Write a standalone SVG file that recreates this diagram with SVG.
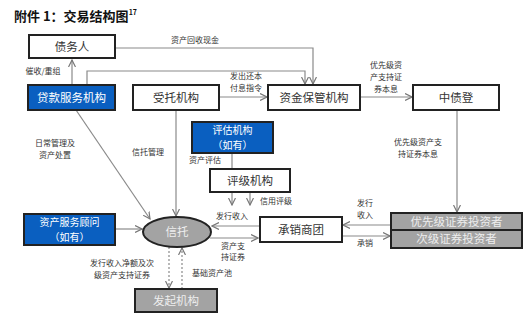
<svg xmlns="http://www.w3.org/2000/svg" width="531" height="318" viewBox="0 0 531 318">
<style>
text{font-family:"Noto Sans CJK SC","Noto Sans",sans-serif;}
.title{font-size:13px;font-weight:bold;fill:#111;}
.box{fill:#fff;stroke:#222;stroke-width:2;}
.blue{fill:#0a5fc0;stroke:#222;stroke-width:2;}
.gray{fill:#a3a3a3;stroke:#222;stroke-width:2;}
.nt{font-size:11.5px;fill:#333;text-anchor:middle;}
.wt{font-size:11.5px;fill:#fff;text-anchor:middle;}
.wt2{font-size:10px;fill:#fff;text-anchor:middle;}
.lt{font-size:11.5px;fill:#eee;text-anchor:middle;}
.lb{font-size:8px;fill:#333;text-anchor:middle;}
.ln{fill:none;stroke:#8a8a8a;stroke-width:1.2;}
.dash{stroke-dasharray:2,2;}
</style>
<defs>
<marker id="ah" markerWidth="8" markerHeight="8" refX="7" refY="4" orient="auto" markerUnits="userSpaceOnUse">
<path d="M0,0.5 L7,4 L0,7.5" fill="none" stroke="#777" stroke-width="1.2"/>
</marker>
</defs>
<text class="title" x="14" y="21">附件 1：交易结构图<tspan font-size="7" dy="-6">17</tspan></text>

<g id="connectors">
<path class="ln" d="M115,48 H313 V84" marker-end="url(#ah)"/>
<path class="ln" d="M87,85 V71 H305 V84" marker-end="url(#ah)"/>
<path class="ln" d="M72,85 V60" marker-end="url(#ah)"/>
<path class="ln" d="M219,97 H267" marker-end="url(#ah)"/>
<path class="ln" d="M360,97 H412" marker-end="url(#ah)"/>
<path class="ln" d="M457,110 V212" marker-end="url(#ah)"/>
<path class="ln" d="M232,153 V169"/>
<path class="ln" d="M232,192 V205" marker-end="url(#ah)"/>
<path class="ln" d="M250,192 V205" marker-end="url(#ah)"/>
<path class="ln" d="M76,110 L150,219" marker-end="url(#ah)"/>
<path class="ln" d="M176,110 V216" marker-end="url(#ah)"/>
<path class="ln" d="M115,229 H142" marker-end="url(#ah)"/>
<path class="ln" d="M259,226 H212" marker-end="url(#ah)"/>
<path class="ln" d="M210,238 H258" marker-end="url(#ah)"/>
<path class="ln" d="M391,225 H343" marker-end="url(#ah)"/>
<path class="ln" d="M342,236 H390" marker-end="url(#ah)"/>
<path class="ln dash" d="M169,247 V288" marker-end="url(#ah)"/>
<path class="ln dash" d="M182,289 V248" marker-end="url(#ah)"/>
<text class="lb" x="195" y="43">资产回收现金</text>
<text class="lb" x="43" y="74">催收/重组</text>
<text class="lb" x="246" y="79">发出还本</text>
<text class="lb" x="246" y="91">付息指令</text>
<text class="lb" x="386" y="68">优先级资</text>
<text class="lb" x="386" y="80">产支持证</text>
<text class="lb" x="386" y="92">券本息</text>
<text class="lb" x="418" y="145">优先级资产支</text>
<text class="lb" x="418" y="157">持证券本息</text>
<text class="lb" x="55" y="146">日常管理及</text>
<text class="lb" x="55" y="158">资产处置</text>
<text class="lb" x="148" y="155">信托管理</text>
<text class="lb" x="205" y="163">资产评估</text>
<text class="lb" x="276" y="204">信用评级</text>
<text class="lb" x="232" y="219">发行收入</text>
<text class="lb" x="233" y="249">资产支</text>
<text class="lb" x="233" y="260">持证券</text>
<text class="lb" x="365" y="206">发行</text>
<text class="lb" x="365" y="218">收入</text>
<text class="lb" x="365" y="246">承销</text>
<text class="lb" x="122" y="266">发行收入净额及次</text>
<text class="lb" x="122" y="278">级资产支持证券</text>
<text class="lb" x="212" y="276">基础资产池</text>
</g>

<g id="debtor"><rect class="box" x="29" y="35" width="86" height="23"/><text class="nt" x="72" y="51">债务人</text></g>
<g id="loan-servicer"><rect class="blue" x="28" y="85" width="87" height="25"/><text class="wt" x="71.5" y="102">贷款服务机构</text></g>
<g id="trustee"><rect class="box" x="133" y="85" width="86" height="25"/><text class="nt" x="176" y="102">受托机构</text></g>
<g id="custodian"><rect class="box" x="268" y="85" width="92" height="25"/><text class="nt" x="314" y="102">资金保管机构</text></g>
<g id="ccdc"><rect class="box" x="413" y="85" width="86" height="25"/><text class="nt" x="456" y="102">中债登</text></g>
<g id="appraiser"><rect class="blue" x="192" y="122" width="81" height="31"/><text class="wt2" x="232.5" y="134">评估机构</text><text class="wt2" x="232.5" y="149">（如有）</text></g>
<g id="rating"><rect class="box" x="210" y="169" width="80" height="23"/><text class="nt" x="250" y="185">评级机构</text></g>
<g id="trust"><ellipse class="gray" cx="177" cy="232" rx="34" ry="15"/><text class="lt" x="177" y="236">信托</text></g>
<g id="underwriters"><rect class="box" x="260" y="217" width="82" height="25"/><text class="nt" x="301" y="234">承销商团</text></g>
<g id="investors"><rect class="gray" x="391" y="213" width="131" height="17"/><text class="lt" x="456.5" y="226">优先级证券投资者</text><rect class="gray" x="391" y="230" width="131" height="18"/><text class="lt" x="456.5" y="243">次级证券投资者</text></g>
<g id="asset-advisor"><rect class="blue" x="24" y="214" width="91" height="31"/><text class="wt2" x="69.5" y="226">资产服务顾问</text><text class="wt2" x="69.5" y="241">（如有）</text></g>
<g id="originator"><rect class="gray" x="135" y="289" width="82" height="23"/><text class="lt" x="176" y="305">发起机构</text></g>
</svg>
